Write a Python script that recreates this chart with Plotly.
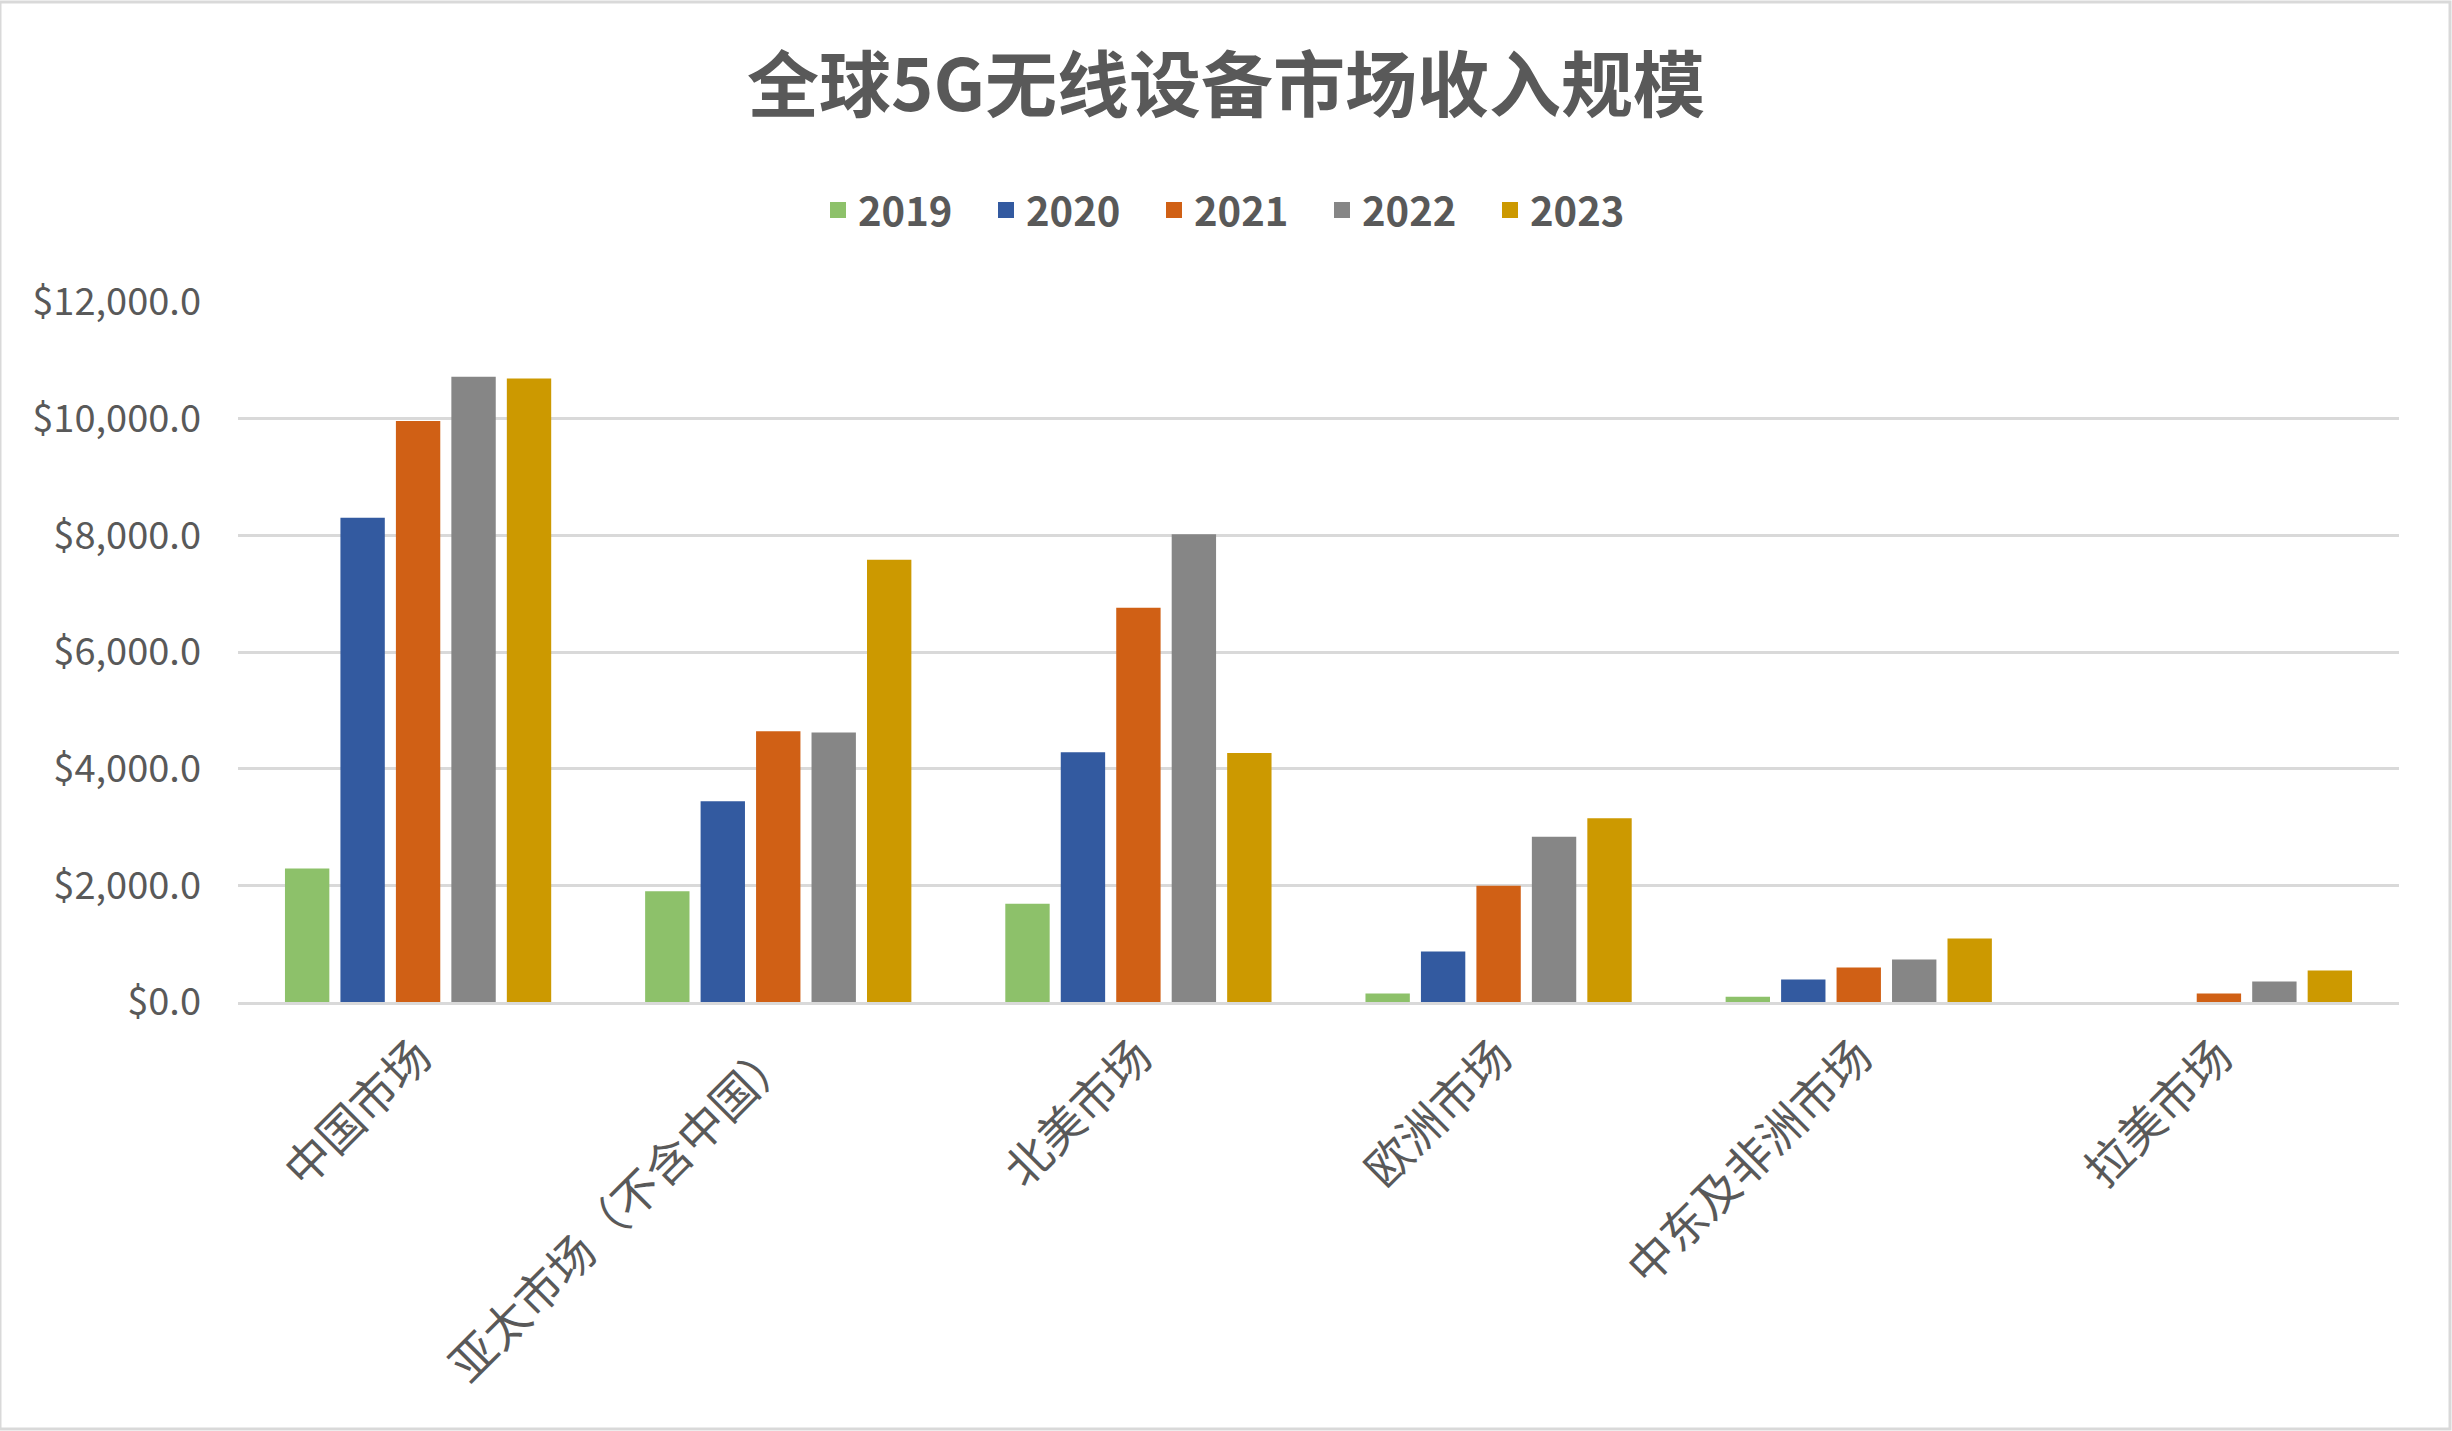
import plotly.graph_objects as go

categories = ["中国市场", "亚太市场（不含中国）", "北美市场", "欧洲市场", "中东及非洲市场", "拉美市场"]
years = ["2019", "2020", "2021", "2022", "2023"]
v2019 = [2290, 1900, 1685, 145, 92, None]
v2020 = [8300, 3440, 4280, 865, 385, None]
v2021 = [9960, 4640, 6760, 1995, 590, 145]
v2022 = [10720, 4620, 8020, 2835, 727, 350]
v2023 = [10690, 7580, 4270, 3148, 1088, 540]
series_values = [v2019, v2020, v2021, v2022, v2023]
colors = ["#8DC16A", "#335AA0", "#D06015", "#868686", "#CC9900"]
tick_vals = [0, 2000, 4000, 6000, 8000, 10000, 12000]
tick_text = ["$0.0", "$2,000.0", "$4,000.0", "$6,000.0", "$8,000.0", "$10,000.0", "$12,000.0"]

FONT = "Noto Sans CJK SC"
TXT = "#595959"

fig = go.Figure()
for name, vals, col in zip(years, series_values, colors):
    fig.add_trace(go.Bar(x=categories, y=vals, name=name, marker=dict(color=col, line=dict(width=0)),
                         showlegend=False))
# legend entries with larger square swatches
for name, col in zip(years, colors):
    fig.add_trace(go.Scatter(x=[None], y=[None], mode="markers", name=name,
                             marker=dict(symbol="square", size=16, color=col)))

W, H = 2452, 1431
L, R, T, B = 238, 53, 302, 429
fig.update_layout(
    width=W, height=H,
    margin=dict(l=L, r=R, t=T, b=B),
    paper_bgcolor="white", plot_bgcolor="white",
    font=dict(family=FONT, color=TXT),
    title=dict(text="<b>全球5G无线设备市场收入规模</b>", x=0.5, xanchor="center",
               xref="container", yref="container", y=1 - 86 / H, yanchor="middle",
               font=dict(size=72, color=TXT, family=FONT)),
    barmode="group", bargap=0.23, bargroupgap=0.2,
    legend=dict(orientation="h", x=(1238 - L) / (W - L - R), xanchor="center",
                y=(H - B - 210) / (H - T - B), yanchor="middle",
                font=dict(size=40, color=TXT, family=FONT, weight="bold"),
                itemsizing="trace", entrywidth=123, entrywidthmode="pixels",
                bgcolor="rgba(0,0,0,0)"),
    xaxis=dict(tickangle=-45, tickfont=dict(size=46, color=TXT, family=FONT),
               showgrid=False, showline=True, linecolor="#D9D9D9", linewidth=3,
               ticks="", ticklabelstandoff=6),
    yaxis=dict(range=[0, 12000], tickvals=tick_vals, ticktext=tick_text,
               tickfont=dict(size=38, color=TXT, family=FONT),
               showgrid=True, gridcolor="#D9D9D9", gridwidth=3, zeroline=False,
               showline=False, ticks="", ticklabelstandoff=36),
    shapes=[dict(type="rect", xref="paper", yref="paper", x0=-L / (W - L - R), x1=1 + (R - 2) / (W - L - R),
                 y0=-(B - 2) / (H - T - B), y1=1 + (T - 2) / (H - T - B),
                 line=dict(color="#D9D9D9", width=3), fillcolor="rgba(0,0,0,0)", layer="below")],
)
fig.write_html("out.html")
